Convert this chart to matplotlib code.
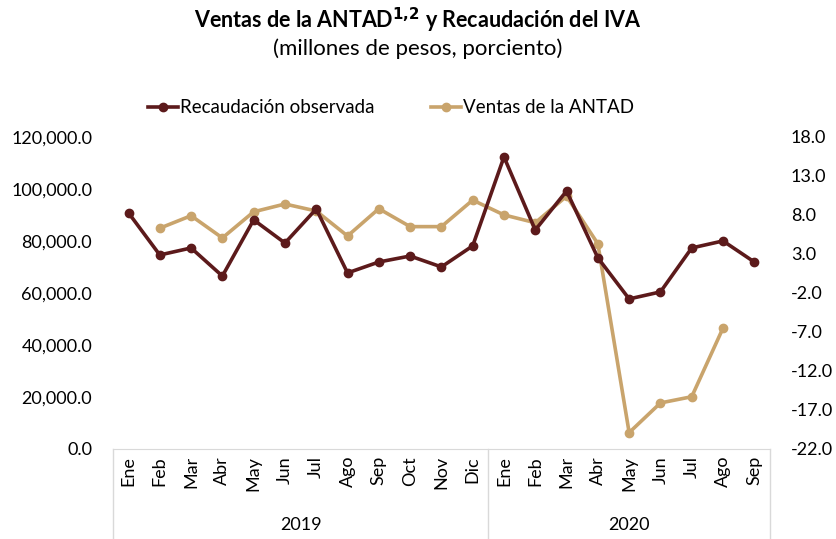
import numpy as np
import matplotlib.pyplot as plt
from matplotlib.lines import Line2D

plt.rcParams['font.family'] = ['Lato', 'DejaVu Sans']

meses = ['Ene', 'Feb', 'Mar', 'Abr', 'May', 'Jun', 'Jul', 'Ago', 'Sep', 'Oct', 'Nov', 'Dic',
         'Ene', 'Feb', 'Mar', 'Abr', 'May', 'Jun', 'Jul', 'Ago', 'Sep']
anios = ['2019', '2020']
recaudacion = [90800, 74600, 77300, 66500, 88100, 79200, 92300, 67700, 71900, 74200, 70000, 78100,
               112300, 84200, 99200, 73500, 57700, 60400, 77300, 80000, 71900]
ventas = [np.nan, 6.3, 7.9, 5.05, 8.4, 9.4, 8.5, 5.3, 8.8, 6.5, 6.5, 9.9,
          8.0, 7.0, 10.4, 4.3, -19.9, -16.1, -15.3, -6.5, np.nan]

c_rec = '#5C1A1B'
c_ven = '#C9A46C'
fs = 13

fig = plt.figure(figsize=(8.36, 5.39), dpi=100)
ax = fig.add_axes([0.135, 0.167, 0.786, 0.579])
ax2 = ax.twinx()

x = np.arange(len(meses))
ax.plot(x, recaudacion, color=c_rec, lw=2.6, marker='o', ms=6, zorder=3)
ax2.plot(x, ventas, color=c_ven, lw=2.6, marker='o', ms=6, zorder=2)
ax.set_zorder(ax2.get_zorder() + 1)
ax.patch.set_visible(False)

ax.set_xlim(-0.5, len(meses) - 0.5)
ax.set_ylim(0, 120000)
ax.set_yticks(np.arange(0, 120001, 20000))
ax.set_yticklabels([f'{v:,.1f}' for v in np.arange(0, 120001, 20000)], fontsize=fs)
ax2.set_ylim(-22, 18)
ax2.set_yticks(np.arange(-22, 18.1, 5))
ax2.set_yticklabels([f'{v:.1f}' for v in np.arange(-22, 18.1, 5)], fontsize=fs)

for a in (ax, ax2):
    for s in ['top', 'right', 'left']:
        a.spines[s].set_visible(False)
ax.tick_params(axis='y', length=0, pad=15)
ax2.tick_params(axis='y', length=0, pad=15)
ax2.spines['bottom'].set_visible(False)
ax.spines['bottom'].set_color('#D9D9D9')

ax.set_xticks(x)
ax.set_xticklabels(meses, rotation=90, fontsize=fs)
ax.tick_params(axis='x', length=0, pad=5)

# separadores de año
for xv in [-0.5, 11.5, len(meses) - 0.5]:
    ax.add_line(Line2D([xv, xv], [0, -0.3], transform=ax.get_xaxis_transform(),
                       color='#D9D9D9', lw=1, clip_on=False))
ax.text(5.5, -0.245, anios[0], transform=ax.get_xaxis_transform(), ha='center', va='center', fontsize=fs)
ax.text(16, -0.245, anios[1], transform=ax.get_xaxis_transform(), ha='center', va='center', fontsize=fs)

fig.text(0.5, 0.963, r'Ventas de la ANTAD$^{\mathbf{1{,}2}}$ y Recaudación del IVA', ha='center', va='center',
         fontsize=15.5, fontweight='bold')
fig.text(0.5, 0.910, '(millones de pesos, porciento)', ha='center', va='center', fontsize=16)

handles = [Line2D([], [], color=c_rec, lw=2.6, marker='o', ms=6),
           Line2D([], [], color=c_ven, lw=2.6, marker='o', ms=6)]
fig.legend(handles, ['Recaudación observada', 'Ventas de la ANTAD'], loc='center',
           bbox_to_anchor=(0.468, 0.8), ncol=2, frameon=False, fontsize=13.5,
           handlelength=1.6, handletextpad=0.1, columnspacing=3)

fig.savefig('out.png', dpi=100)
